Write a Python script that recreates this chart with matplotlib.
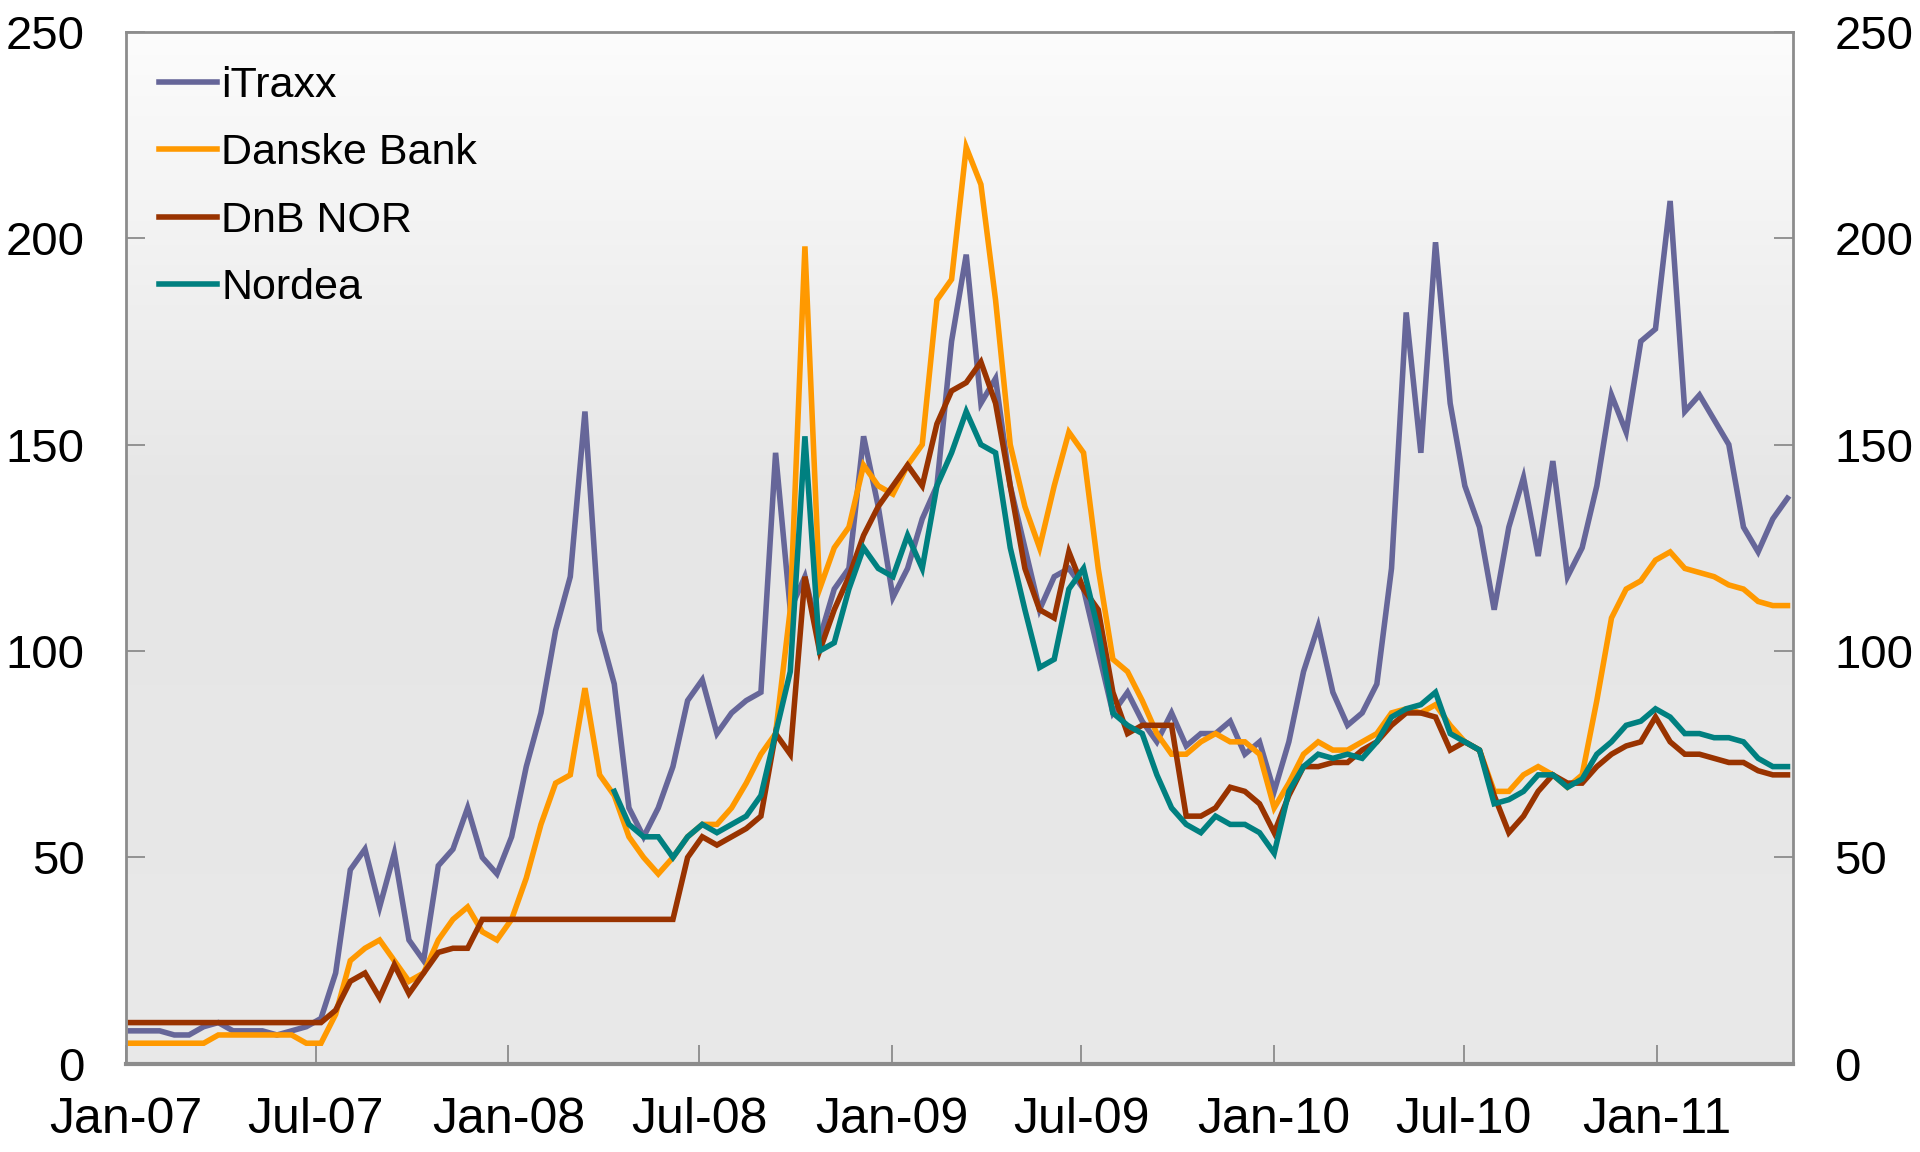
import matplotlib
matplotlib.use("Agg")
import matplotlib.pyplot as plt
import matplotlib.dates as mdates
from matplotlib.colors import LinearSegmentedColormap
import numpy as np
import pandas as pd

plt.rcParams['font.family'] = ['Liberation Sans', 'DejaVu Sans']

# fortnightly observations, Jan 2007 - Apr 2011 (basis points)
dates = pd.date_range("2007-01-05", periods=114, freq="14D")

itraxx = [8, 8, 8, 7, 7, 9, 10, 8, 8, 8, 7, 8, 9,
          11, 22, 47, 52, 38, 51, 30, 25, 48, 52, 62, 50, 46, 55,
          72, 85, 105, 118, 158, 105, 92, 62, 55, 62, 72, 88,
          93, 80, 85, 88, 90, 148, 110, 118, 103, 115, 120, 152, 135,
          113, 120, 132, 140, 175, 196, 160, 166, 140, 125, 110, 118, 120,
          115, 100, 85, 90, 83, 78, 85, 77, 80, 80, 83, 75, 78,
          66, 78, 95, 106, 90, 82, 85, 92, 120, 182, 148, 199, 160,
          140, 130, 110, 130, 142, 123, 146, 118, 125, 140, 162, 153, 175,
          178, 209, 158, 162, 156, 150, 130, 124, 132, 137]

danske = [5, 5, 5, 5, 5, 5, 7, 7, 7, 7, 7, 7, 5,
          5, 12, 25, 28, 30, 25, 20, 22, 30, 35, 38, 32, 30, 35,
          45, 58, 68, 70, 91, 70, 65, 55, 50, 46, 50, 55,
          58, 58, 62, 68, 75, 80, 110, 198, 115, 125, 130, 145, 140,
          138, 145, 150, 185, 190, 222, 213, 185, 150, 135, 125, 140, 153,
          148, 120, 98, 95, 88, 80, 75, 75, 78, 80, 78, 78, 75,
          62, 68, 75, 78, 76, 76, 78, 80, 85, 86, 85, 87, 82,
          78, 76, 66, 66, 70, 72, 70, 67, 70, 88, 108, 115, 117,
          122, 124, 120, 119, 118, 116, 115, 112, 111, 111]

dnb_nor = [10, 10, 10, 10, 10, 10, 10, 10, 10, 10, 10, 10, 10,
           10, 13, 20, 22, 16, 24, 17, 22, 27, 28, 28, 35, 35, 35,
           35, 35, 35, 35, 35, 35, 35, 35, 35, 35, 35, 50,
           55, 53, 55, 57, 60, 80, 75, 118, 100, 110, 118, 128, 135,
           140, 145, 140, 155, 163, 165, 170, 160, 140, 120, 110, 108, 124,
           115, 110, 90, 80, 82, 82, 82, 60, 60, 62, 67, 66, 63,
           56, 65, 72, 72, 73, 73, 76, 78, 82, 85, 85, 84, 76,
           78, 76, 65, 56, 60, 66, 70, 68, 68, 72, 75, 77, 78,
           84, 78, 75, 75, 74, 73, 73, 71, 70, 70]

nordea = [np.nan] * 33 + [
          66, 58, 55, 55, 50, 55,
          58, 56, 58, 60, 65, 80, 95, 152, 100, 102, 115, 125, 120,
          118, 128, 120, 140, 148, 158, 150, 148, 125, 110, 96, 98, 115,
          120, 105, 85, 82, 80, 70, 62, 58, 56, 60, 58, 58, 56,
          51, 66, 72, 75, 74, 75, 74, 78, 84, 86, 87, 90, 80,
          78, 76, 63, 64, 66, 70, 70, 67, 69, 75, 78, 82, 83,
          86, 84, 80, 80, 79, 79, 78, 74, 72, 72]

series = [("iTraxx", itraxx, "#666699"),
          ("Danske Bank", danske, "#FF9900"),
          ("DnB NOR", dnb_nor, "#993300"),
          ("Nordea", nordea, "#008080")]

fig = plt.figure(figsize=(19.2, 11.52), dpi=100)
ax = fig.add_axes([0.0657, 0.0765, 0.868, 0.896])

x0 = mdates.date2num(pd.Timestamp("2007-01-01"))
x1 = mdates.date2num(pd.Timestamp("2011-05-11"))

# background gradient: near white at the top, light grey further down
grad = LinearSegmentedColormap.from_list(
    "bg", [(0, "#FCFCFC"), (0.45, "#E6E6E6"), (1, "#E9E9E9")])
ax.imshow(np.linspace(0, 1, 256).reshape(-1, 1), cmap=grad, aspect="auto",
          extent=[x0, x1, 0, 250], origin="upper", zorder=0)

for name, vals, col in series:
    ax.plot(dates, vals, color=col, lw=4, label=name, zorder=2,
            solid_joinstyle="miter")

ax.set_xlim(x0, x1)
ax.set_ylim(0, 250)
ax.set_yticks([0, 50, 100, 150, 200, 250])

ax.xaxis.set_major_locator(mdates.MonthLocator(bymonth=[1, 7]))
ax.xaxis.set_major_formatter(mdates.DateFormatter("%b-%y"))

for s in ax.spines.values():
    s.set_color("#8C8C8C")
    s.set_linewidth(2)
ax.spines["bottom"].set_linewidth(3)

ax.tick_params(axis="both", direction="in", length=14, width=1.3,
               color="#8C8C8C")
ax.tick_params(axis="x", pad=24, labelsize=36)
ax.tick_params(axis="y", pad=30, labelsize=34, right=True, labelright=True)

leg = ax.legend(loc="upper left", frameon=False, fontsize=31,
                handlelength=1.35, handletextpad=0.1, labelspacing=0.64,
                borderaxespad=0.2, bbox_to_anchor=(0.004, 0.992))

fig.savefig("out.png", dpi=100)
